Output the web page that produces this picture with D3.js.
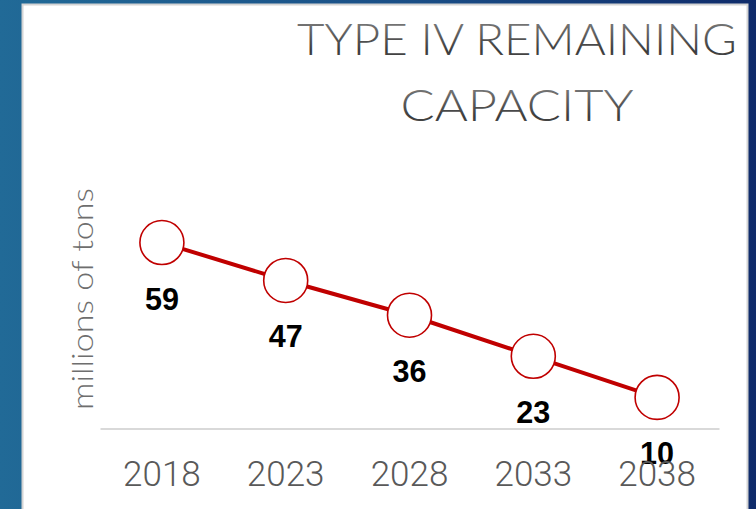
<!DOCTYPE html>
<html>
<head>
<meta charset="utf-8">
<script src="https://cdn.jsdelivr.net/npm/d3@7/dist/d3.min.js"></script>
<style>
  html, body { margin: 0; padding: 0; background: #1f6694; }
  svg { display: block; }
</style>
</head>
<body>
<svg id="chart" width="756" height="509"></svg>
<script>
// Remaining Type IV capacity, millions of tons
const years = ["2018", "2023", "2028", "2033", "2038"];
const capacity = [59, 47, 36, 23, 10];
const titleLines = ["TYPE IV REMAINING", "CAPACITY"];
const yAxisLabel = "millions of tons";

const W = 756, H = 509;
const svg = d3.select("#chart");
const defs = svg.append("defs");

// slide background: blue that deepens to navy towards the right
const bg = defs.append("linearGradient").attr("id", "bgGrad")
  .attr("x1", "0").attr("y1", "0").attr("x2", "1").attr("y2", "0");
bg.append("stop").attr("offset", "0").attr("stop-color", "#216a97");
bg.append("stop").attr("offset", "0.55").attr("stop-color", "#1a4e86");
bg.append("stop").attr("offset", "1").attr("stop-color", "#0f2b6a");

// title fill: lighter grey at the top, darker towards the baseline
const tg = defs.append("linearGradient").attr("id", "titleGrad")
  .attr("x1", "0").attr("y1", "0").attr("x2", "0").attr("y2", "1");
tg.append("stop").attr("offset", "0").attr("stop-color", "#8c8c8c");
tg.append("stop").attr("offset", "0.75").attr("stop-color", "#3c3c3c");
tg.append("stop").attr("offset", "1").attr("stop-color", "#555555");

svg.append("rect").attr("width", W).attr("height", H).attr("fill", "url(#bgGrad)");

// white content panel
svg.append("rect")
  .attr("x", 22.5).attr("y", 4.5).attr("width", 725).attr("height", 520)
  .attr("fill", "#ffffff").attr("stroke", "#d4d4d4").attr("stroke-width", 2);

// title
const titleBaselines = [55, 121];
const titleWidths = [440, 233];
svg.selectAll("text.title").data(titleLines).join("text")
  .attr("class", "title")
  .attr("x", 517)
  .attr("y", (d, i) => titleBaselines[i])
  .attr("text-anchor", "middle")
  .attr("textLength", (d, i) => titleWidths[i])
  .attr("lengthAdjust", "spacingAndGlyphs")
  .style("font-family", "Lato, 'Open Sans', sans-serif")
  .style("font-weight", 300)
  .style("font-size", "44px")
  .attr("fill", "url(#titleGrad)")
  .text(d => d);

// scales
const x = d3.scaleBand().domain(years).range([100, 719]).padding(0);
const y = d3.scaleLinear().domain([0, 70]).range([429, 207.8]);
const cx = d => x(d) + x.bandwidth() / 2;

// y-axis title
svg.append("text")
  .attr("transform", "translate(93,299) rotate(-90)")
  .attr("text-anchor", "middle")
  .attr("textLength", 222)
  .attr("lengthAdjust", "spacingAndGlyphs")
  .style("font-family", "Lato, 'Open Sans', sans-serif")
  .style("font-weight", 300)
  .style("font-size", "29px")
  .attr("fill", "#6e6e6e")
  .text(yAxisLabel);

const points = years.map((yr, i) => ({ year: yr, value: capacity[i] }));

// connecting line
svg.append("path")
  .datum(points)
  .attr("fill", "none")
  .attr("stroke", "#c00000")
  .attr("stroke-width", 4)
  .attr("d", d3.line().x(d => cx(d.year)).y(d => y(d.value)));

// hollow markers
svg.selectAll("circle.pt").data(points).join("circle")
  .attr("class", "pt")
  .attr("cx", d => cx(d.year))
  .attr("cy", d => y(d.value))
  .attr("r", 22)
  .attr("fill", "#ffffff")
  .attr("stroke", "#c00000")
  .attr("stroke-width", 1.6);

// value labels below each marker
svg.selectAll("text.val").data(points).join("text")
  .attr("class", "val")
  .attr("x", d => cx(d.year))
  .attr("y", d => y(d.value) + 67)
  .attr("text-anchor", "middle")
  .attr("textLength", 34)
  .attr("lengthAdjust", "spacingAndGlyphs")
  .style("font-family", "'Liberation Sans', Arial, sans-serif")
  .style("font-weight", 700)
  .style("font-size", "32px")
  .attr("fill", "#000000")
  .text(d => d.value);

// category axis along the zero line
const axis = svg.append("g")
  .attr("transform", `translate(0,${y(0) - 0.5})`)
  .call(d3.axisBottom(x).tickSize(0).tickSizeOuter(0));
axis.select(".domain").attr("stroke", "#d9d9d9").attr("stroke-width", 2);
axis.selectAll(".tick text")
  .attr("y", 0)
  .attr("dy", 57.5)
  .style("font-family", "Roboto, 'Open Sans', sans-serif")
  .style("font-weight", 300)
  .style("font-size", "35px")
  .attr("fill", "#595959");
</script>
</body>
</html>
